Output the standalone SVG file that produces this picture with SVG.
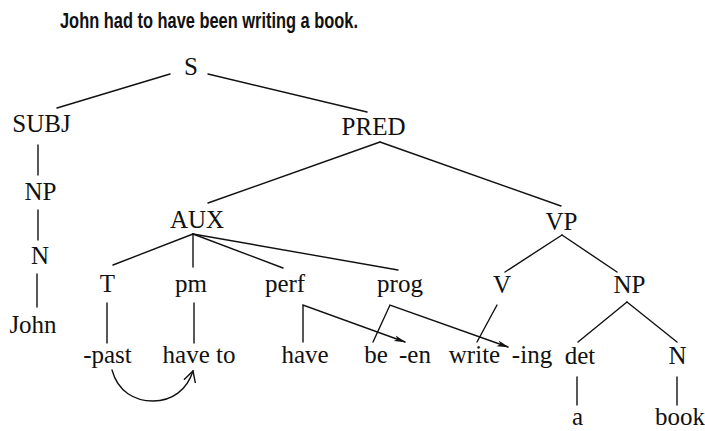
<svg xmlns="http://www.w3.org/2000/svg" width="705" height="431" viewBox="0 0 705 431">
  <style>
    .lbl { font-family: "Liberation Serif", "Times New Roman", serif; font-size: 25px; fill: #111; text-anchor: middle; }
    .title { font-family: "Liberation Sans", Arial, sans-serif; font-size: 22px; font-weight: bold; fill: #111; }
    .edge { stroke: #111; stroke-width: 1.4; fill: none; stroke-linecap: round; }
  </style>
  <defs>
    <marker id="arrow" viewBox="0 0 12 8" refX="11" refY="4" markerWidth="12" markerHeight="8" markerUnits="userSpaceOnUse" orient="auto">
      <path d="M0,1 L12,4 L0,7 L3,4 Z" fill="#111"/>
    </marker>
    <marker id="chevron" viewBox="0 0 12 14" refX="11" refY="7" markerWidth="12" markerHeight="14" markerUnits="userSpaceOnUse" orient="auto">
      <path d="M0,1 L11,7 L0,13" fill="none" stroke="#111" stroke-width="1.4"/>
    </marker>
  </defs>

  <rect width="705" height="431" fill="#fff"/>

  <text class="title" x="60" y="28" textLength="298" lengthAdjust="spacingAndGlyphs">John had to have been writing a book.</text>

  <!-- tree edges -->
  <g id="connectors">
    <line class="edge" x1="170" y1="74" x2="57" y2="108"/>
    <line class="edge" x1="208" y1="74" x2="367" y2="112"/>
    <line class="edge" x1="38" y1="145" x2="38" y2="175"/>
    <line class="edge" x1="38" y1="210" x2="38" y2="240"/>
    <line class="edge" x1="37" y1="274" x2="37" y2="307"/>
    <line class="edge" x1="380" y1="142" x2="208" y2="203"/>
    <line class="edge" x1="380" y1="142" x2="561" y2="206"/>
    <line class="edge" x1="193" y1="234" x2="113" y2="265"/>
    <line class="edge" x1="193" y1="234" x2="193" y2="267"/>
    <line class="edge" x1="193" y1="234" x2="283" y2="268"/>
    <line class="edge" x1="193" y1="234" x2="398" y2="270"/>
    <line class="edge" x1="562" y1="235" x2="505" y2="272"/>
    <line class="edge" x1="562" y1="235" x2="617" y2="272"/>
    <line class="edge" x1="107" y1="303" x2="107" y2="343"/>
    <line class="edge" x1="194" y1="303" x2="194" y2="343"/>
    <path class="edge" d="M303,342 V305 L405,342" marker-end="url(#arrow)"/>
    <path class="edge" d="M373,342 L390,305 L508,347" marker-end="url(#arrow)"/>
    <line class="edge" x1="497" y1="305" x2="477" y2="342"/>
    <line class="edge" x1="627" y1="302" x2="578" y2="342"/>
    <line class="edge" x1="627" y1="302" x2="677" y2="342"/>
    <line class="edge" x1="577" y1="377" x2="577" y2="405"/>
    <line class="edge" x1="677" y1="377" x2="677" y2="405"/>
    <!-- affix hopping arc: -past onto have to -->
    <path class="edge" d="M112,370 C118,392 135,401 153,401 C172,401 187,390 193,371" marker-end="url(#chevron)"/>
  </g>

  <!-- nodes -->
  <g id="n-S"><text class="lbl" x="191" y="75">S</text></g>
  <g id="n-SUBJ"><text class="lbl" x="41.5" y="132">SUBJ</text></g>
  <g id="n-PRED"><text class="lbl" x="373.5" y="135">PRED</text></g>
  <g id="n-NP1"><text class="lbl" x="40.5" y="200">NP</text></g>
  <g id="n-N1"><text class="lbl" x="40" y="264">N</text></g>
  <g id="n-John"><text class="lbl" x="33" y="333">John</text></g>
  <g id="n-AUX"><text class="lbl" x="197" y="228">AUX</text></g>
  <g id="n-VP"><text class="lbl" x="561.5" y="230">VP</text></g>
  <g id="n-T"><text class="lbl" x="107.5" y="292">T</text></g>
  <g id="n-pm"><text class="lbl" x="191" y="292">pm</text></g>
  <g id="n-perf"><text class="lbl" x="285" y="292">perf</text></g>
  <g id="n-prog"><text class="lbl" x="400" y="292">prog</text></g>
  <g id="n-V"><text class="lbl" x="502" y="293">V</text></g>
  <g id="n-NP2"><text class="lbl" x="629.5" y="293">NP</text></g>
  <g id="n-past"><text class="lbl" x="107.5" y="363">-past</text></g>
  <g id="n-haveto"><text class="lbl" x="199" y="363">have to</text></g>
  <g id="n-have"><text class="lbl" x="305" y="363">have</text></g>
  <g id="n-be"><text class="lbl" x="376" y="363">be</text></g>
  <g id="n-en"><text class="lbl" x="415" y="363">-en</text></g>
  <g id="n-write"><text class="lbl" x="474.5" y="363">write</text></g>
  <g id="n-ing"><text class="lbl" x="532" y="363">-ing</text></g>
  <g id="n-det"><text class="lbl" x="580" y="364">det</text></g>
  <g id="n-N2"><text class="lbl" x="677.5" y="364">N</text></g>
  <g id="n-a"><text class="lbl" x="577.5" y="425">a</text></g>
  <g id="n-book"><text class="lbl" x="680" y="425">book</text></g>
</svg>
